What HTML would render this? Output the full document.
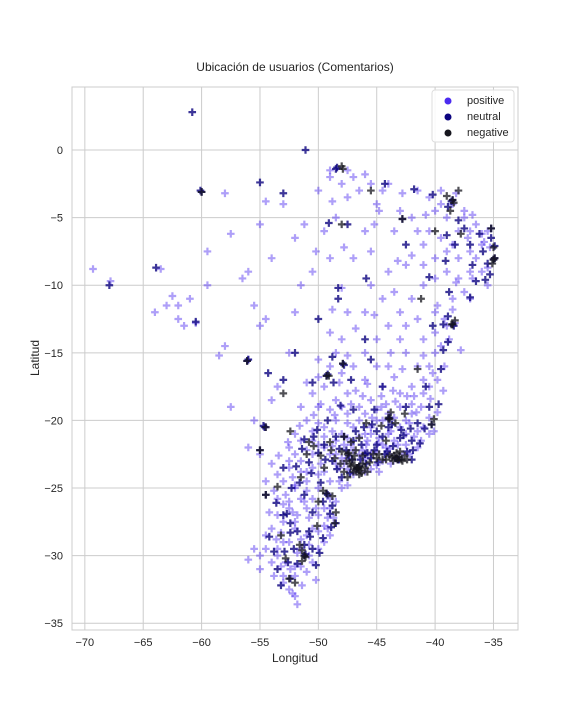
<!DOCTYPE html>
<html><head><meta charset="utf-8"><style>
body{margin:0;background:#fff;font-family:"Liberation Sans",sans-serif}
svg text{font-family:"Liberation Sans",sans-serif;fill:#262626}
</style></head><body>
<svg id="chart" width="576" height="720" viewBox="0 0 576 720">
<rect width="576" height="720" fill="#fff"/>
<text x="295" y="71" text-anchor="middle" font-size="12">Ubicación de usuarios (Comentarios)</text>
<g id="grid"></g>
<rect x="72" y="87" width="446" height="543" fill="none" stroke="#ccc" stroke-width="1"/>
<g id="pts"></g>
<g id="ticks"></g>
<text x="295" y="662" text-anchor="middle" font-size="12">Longitud</text>
<text x="39" y="358" text-anchor="middle" font-size="12" transform="rotate(-90 39 358)">Latitud</text>
<g>
<rect x="432" y="90" width="82" height="52" rx="3" fill="#fff" fill-opacity="0.85" stroke="#ddd"/>
<circle cx="448" cy="101" r="3.5" fill="#4b2bf0"/>
<text x="467" y="104" font-size="11">positive</text>
<circle cx="448" cy="117" r="3.5" fill="#0c0480"/>
<text x="467" y="120" font-size="11">neutral</text>
<circle cx="448" cy="133" r="3.5" fill="#16161e"/>
<text x="467" y="136" font-size="11">negative</text>
</g>
</svg>
<script>
const xTicks=[-70,-65,-60,-55,-50,-45,-40,-35];
const yTicks=[0,-5,-10,-15,-20,-25,-30,-35];
const positivePts=[[-69.3,-8.8],[-67.8,-9.7],[-64,-12],[-62.5,-10.8],[-62,-11.5],[-61.5,-13],[-60.5,-12.8],[-59.5,-10],[-58.5,-15.2],[-57.5,-6.2],[-56.5,-9.5],[-55.5,-11.5],[-55,-13],[-56,-15.5],[-54.5,-12.5],[-53,-4],[-54.5,-3.8],[-55,-5.5],[-58,-3.2],[-57.5,-19],[-55.5,-20],[-54.5,-20.5],[-56,-22],[-55,-22.5],[-54,-18.5],[-53.5,-17.5],[-52,-12],[-51.5,-10],[-52.5,-15],[-50.5,-9],[-49.5,-6],[-48.5,-5],[-49,-8],[-48,-10.2],[-47.5,-12],[-47,-8],[-46,-6],[-45,-4],[-44.5,-3],[-43,-4.5],[-42,-5],[-41.5,-3],[-40.5,-3.5],[-39.5,-4],[-38.5,-4],[-37.5,-5],[-36.5,-5.5],[-36,-6.2],[-37,-7.5],[-38,-8],[-39,-9],[-40,-9.5],[-41,-10],[-42,-11],[-43,-12],[-44,-13],[-45,-14],[-46,-15],[-40,-12],[-39,-13],[-39.5,-14.5],[-39.2,-16],[-40.5,-17.5],[-41.5,-16],[-42.5,-15],[-43.5,-16.8],[-44.5,-17.5],[-45.5,-18.5],[-46.5,-19],[-47.5,-18],[-48.5,-18.5],[-49.5,-17.5],[-50.5,-18],[-51.5,-19],[-52,-21],[-50.5,-21.5],[-49.5,-20.5],[-48,-21],[-47,-20.5],[-46,-21],[-45,-20],[-44,-21],[-43,-20.5],[-42,-19.5],[-41,-20.5],[-40.5,-21],[-41.5,-22],[-44,-22.5],[-45.5,-22.5],[-46.5,-22.5],[-47.5,-22.8],[-48.5,-22.5],[-49.5,-22],[-50.5,-22.5],[-51.5,-23],[-52.5,-23.5],[-53.5,-24],[-52,-25],[-51,-24.5],[-50,-24],[-49,-24.5],[-48.5,-26],[-49.5,-26.5],[-51,-26.5],[-52.5,-26.5],[-53.5,-27],[-52,-28],[-50.5,-28],[-49,-28.5],[-50,-29.5],[-51.5,-29.5],[-53,-29],[-54.5,-28.5],[-55.5,-29.5],[-54,-30.5],[-53,-31.5],[-52.5,-32.5],[-51.8,-33.6],[-56,-30.3],[-55,-31],[-50.5,-30.5],[-49.5,-29],[-41,-7],[-42.5,-8.5],[-44,-9],[-45.5,-10],[-46,-12],[-44.5,-11],[-43.5,-10.5],[-38.5,-11],[-37.5,-10.5],[-36.8,-9.5],[-35.5,-8.7],[-35.3,-7.2],[-36.5,-8],[-38.3,-12.8],[-40,-15],[-41,-14],[-47,-16],[-48.5,-15],[-50,-15.5],[-49,-13.5],[-48,-14],[-46,-17],[-43,-18],[-42.5,-21],[-44.5,-23],[-47,-24],[-48,-25],[-46,-23.8],[-45,-23.3],[-50.5,-25.8],[-49.3,-25.4],[-52.5,-22],[-48.5,-20],[-45,-16],[-42,-17.5],[-59.5,-7.5],[-61,-11],[-63.5,-8.8],[-63,-11.5],[-62,-12.5],[-58,-14.5],[-56,-9],[-54,-8],[-52,-6.5],[-50,-3],[-49,-2],[-47.5,-1.5],[-46,-1.8],[-47.5,-3.5],[-44,-2.5],[-43.5,-6],[-45.5,-7.5],[-43,-14],[-37,-11],[-39.3,-17.8],[-47.2,-21.8],[-46.2,-22.2],[-48.2,-23.5],[-47.8,-23.2],[-45.8,-21.5],[-44.8,-21.3],[-43.8,-20.8],[-42.2,-20.2],[-41.2,-19],[-49.8,-23.2],[-51,-23.8],[-52.2,-24.2],[-50.8,-27.2],[-49.2,-27.2],[-51.8,-27],[-53.2,-28.3],[-52,-30.8],[-50.8,-29.2],[-52.8,-25.5],[-47.5,-19.5],[-44.2,-18.8],[-42.8,-16.2],[-40.2,-16.5],[-39.8,-11.5],[-38.2,-9.8],[-37.2,-6.5],[-40.8,-4.8],[-42.8,-3.2],[-45.2,-5.5],[-47.8,-7.2],[-50.2,-7.5],[-51.2,-5.5],[-48.8,-11.8],[-46.8,-13.2],[-45.2,-12.2],[-43.2,-8.2],[-35.8,-6.8],[-37.8,-14.8],[-41.8,-18.2],
[-50,-19],[-49,-19.2],[-48,-19],[-46,-19.5],[-45,-19.2],[-44,-19.5],[-43,-19],[-42,-18.8],[-41,-18],[-40.5,-19.8],
[-51,-20],[-50,-20.2],[-48.8,-20.8],[-47.5,-20.2],[-46.5,-20],[-45.5,-20.5],[-44.5,-20],[-43.5,-19.8],[-42.5,-20],[-41.5,-20.8],
[-51.5,-21.5],[-50.5,-20.8],[-49.5,-21.2],[-48.5,-21.5],[-47.5,-21.3],[-46.5,-21.2],[-45.5,-21],[-44.5,-21.8],[-43.5,-21.5],[-42.5,-21.8],[-41.8,-21.2],
[-52,-22.5],[-51,-22.2],[-50,-21.8],[-49,-22.5],[-48,-22.8],[-47,-22.2],[-46,-22.8],[-45,-22.3],[-44.2,-22],[-43.2,-21.8],[-42.8,-22.5],
[-52.5,-23],[-51.5,-23.8],[-50.5,-23.5],[-49.5,-23.8],[-48.5,-23.2],[-47.5,-23.6],[-45.5,-23.6],[-44.8,-23.8],[-43.8,-23.2],
[-53,-24.5],[-52,-24.8],[-51,-25.2],[-50,-25],[-49,-25.8],[-48.2,-24.5],[-47.5,-24.8],
[-53.5,-25.8],[-52.5,-26],[-51.5,-25.8],[-50.2,-26.5],[-49,-26.5],[-48.7,-27.2],[-53,-27.5],[-52,-27.5],[-51,-28.5],[-50,-28.2],[-49.2,-28],
[-54,-28],[-53.5,-29.5],[-52.5,-29],[-51.5,-28.8],[-50.8,-30],[-52.8,-30.5],[-51.5,-30.8],[-53.5,-30],[-54.5,-29.5],[-55,-30],
[-53,-32],[-52,-31.5],[-52.2,-32.8],[-52,-33],[-53.8,-31.5],
[-40,-4.5],[-39,-5],[-38,-6],[-37,-6],[-36,-7],[-35.5,-6],[-38.5,-7],[-39.5,-6.5],[-40.5,-6],[-41.5,-6],[-42,-7.8],[-41,-8.5],[-40,-8],[-39,-7.5],[-38,-9.5],[-37,-9],[-36,-9],[-35.5,-10],
[-38.5,-11.8],[-39.2,-12.5],[-38.8,-14],[-40,-13.5],[-41.5,-12.5],[-42.5,-13],[-41,-15.2],[-40.5,-16],[-39.8,-17],[-41,-17],
[-48,-16.5],[-49,-16],[-47.5,-15.2],[-48.2,-17.2],[-50,-16.8],[-51,-17.2],[-46.8,-17.8],[-45.8,-17.3],[-44,-16],[-43.8,-15],
[-49,-1.5],[-48,-2.5],[-47,-2],[-46.5,-3],[-48.8,-3.8],[-45.5,-2.5],[-44.8,-4.5],[-39.5,-3],[-38.2,-3.2],[-37.5,-4.5],[-36.8,-4.8],
[-49.8,-18.8],[-48.6,-19.6],[-47.2,-18.8],[-46.2,-18.2],[-45.4,-19.8],[-44.6,-18.2],[-43.4,-18.6],[-42.4,-18.2],[-41.6,-19.4],[-50.4,-19.6],[-51.6,-20.4],[-52.6,-21.6],[-53.4,-22.6],[-54,-23.2],[-54.5,-24.5],[-53.8,-25.2],[-53,-26.2],[-52.2,-26.8],[-51.2,-26],[-50,-27],[-49.5,-27.8],[-54.2,-26.8],[-53.6,-28.8],[-51.8,-29.8],[-52.4,-31],[-53.2,-30.8],[-51,-31.2],[-50.2,-31.8],[-51.4,-32.2],[-44.6,-19],[-43.6,-17.8],[-40.4,-18.4],[-39.8,-19.4],[-40.1,-20.8],[-48.8,-21.9],[-47.8,-21.8],[-45.9,-21.8],[-44.9,-21.7],[-43.9,-22.1],[-42.2,-22.5],[-41.2,-21.5]];
const neutralPts=[[-60.8,2.8],[-51.1,0],[-60,-3.1],[-60.1,-3.0],[-55,-2.4],[-53,-3.2],[-63.9,-8.7],[-67.9,-10],[-60.5,-12.7],[-56,-15.5],[-54.6,-20.5],[-54.7,-20.4],[-55,-22.2],[-48.5,-1.4],[-48.4,-1.3],[-44.3,-2.5],[-42.8,-5.1],[-38.5,-3.7],[-38.6,-3.8],[-35.2,-5.8],[-34.9,-7.1],[-34.9,-8.0],[-35,-8.1],[-35.7,-9.6],[-37,-10.9],[-38.5,-12.9],[-38.4,-13],[-47.9,-15.8],[-47.8,-15.9],[-49.3,-16.7],[-49.2,-16.6],[-44,-19.9],[-43.9,-19.8],[-40.3,-20.3],[-43.2,-22.9],[-43.1,-22.9],[-46.6,-23.5],[-46.7,-23.6],[-46.5,-23.4],[-47.1,-22.9],[-47.8,-21.2],[-49.3,-25.4],[-49.2,-25.5],[-48.5,-27.6],[-51.2,-30],[-51.1,-29.9],[-52.4,-31.7],[-51.2,-29.2],[-49,-26.9],[-53,-23.5],[-51.4,-22.1],[-50.4,-21.2],[-48.1,-18.9],[-46.1,-20.5],[-45,-21.8],[-44.3,-22.5],[-42,-22.9],[-40.5,-19],[-39.3,-14.8],[-40.5,-9.4],[-37,-7],[-36.5,-9.7],[-42.5,-7],[-45.9,-9.5],[-48.3,-10.2],[-56.1,-15.6],[-54.5,-25.5],[-53,-27],[-52.4,-28.3],[-49.6,-28.7],[-50.2,-30.7],[-53.8,-29.7],[-48.8,-23],[-45.9,-23.2],[-45.5,-22.8],[-43.4,-22.8],[-47.4,-22.6],[-51.9,-23.4],[-50,-22.4],[-46.3,-21.8],[-42.9,-20.7],[-41.3,-21.7],[-48.8,-26.3],[-52.7,-26.9],[-49.9,-29.8],[-53.5,-31],[-38.9,-12.3],[-39.7,-18.8],[-39,-6.3],[-38,-5.2],[-41.8,-2.9],[-47.5,-5.5],[-49.1,-5.4],[-50,-12.5],[-48.3,-11],[-44.5,-17.5],[-46,-14],[-53,-17],[-52,-15],[-54.3,-16.5],[-47.3,-23.9],[-45.2,-22.2],[-44.5,-21.2],[-42.4,-22.3],[-48.2,-22.1],[-50.8,-23.1],[-52.1,-29.5],[-50.7,-28.6],[-39.1,-8.2],[-35.9,-7.5],
[-49.5,-21.8],[-48.5,-21.2],[-47,-21.5],[-46,-22.5],[-45,-20.8],[-44,-20.5],[-43,-21.3],[-42,-21.5],[-41.5,-20.2],[-48,-24.2],[-49.8,-24.6],[-51.2,-25.5],[-52.3,-25],[-50.5,-26.8],[-51.8,-28.2],[-50.5,-29.5],[-52.6,-30.5],[-53.2,-32.2],[-54.2,-28.6],[-49.2,-20],[-47,-19.2],[-45.2,-19.2],[-42.5,-19],[-40.8,-17.5],[-39.5,-16.2],[-40.2,-13],[-38.8,-10.5],[-36.8,-8.5],[-37.5,-5.8],[-40.2,-3.3],[-35.2,-6.5],[-35.5,-8.4],[-38.3,-7],[-47.2,-17],[-48.8,-15.3],[-50.5,-17.2],[-45.5,-15.5],
[-48.4,-23.6],[-47.6,-22.2],[-46.4,-22.9],[-45.8,-22.4],[-44.9,-23.1],[-44.1,-22.3],[-43.6,-21.9],[-42.7,-21.1],[-41.9,-22.2],[-49.4,-22.9],[-50.6,-23.9],[-51.6,-24.6],[-49.6,-26],[-48.9,-27.9],[-50.8,-28.2],[-51.8,-30.6],[-52.9,-29.7],[-53.6,-26.1],[-52.4,-27.6],[-46.8,-20.8],[-45.4,-20.3],[-43.7,-20.3],[-42.1,-20.6],[-40.9,-20.6],[-38.9,-14.2],[-39.3,-12.9],[-35.3,-9.2],[-36.2,-6.2],[-38.9,-4.2],[-48.7,-17.2],[-50.1,-20.7],[-51.2,-21.4]];
const negativePts=[[-60,-3.1],[-48,-1.2],[-47.9,-1.4],[-45.5,-3],[-42.8,-5.1],[-38.5,-3.7],[-35.2,-5.8],[-34.9,-8],[-35,-7.2],[-38.5,-12.9],[-47.9,-15.8],[-49.3,-16.7],[-43.9,-19.9],[-46.6,-23.5],[-46.7,-23.5],[-46.6,-23.6],[-46.5,-23.4],[-46.8,-23.7],[-46.9,-23.3],[-47.1,-22.9],[-46.4,-23.7],[-47.3,-23.2],[-46.2,-23.2],[-43.2,-22.9],[-43.3,-22.8],[-43.1,-22.7],[-42.9,-22.9],[-43.5,-22.6],[-43.7,-22.7],[-49.3,-25.4],[-51.2,-30],[-51.1,-30.1],[-40.3,-20.3],[-44,-19.8],[-38.6,-12.9],[-35,-8.1],[-48.6,-27.6],[-47.8,-21.2],[-49.1,-16.7],[-45,-22.8],[-44.8,-22.5],[-47.5,-22.5],[-48,-22.3],[-52.5,-31.7],[-54.5,-25.5],[-55,-22.2],[-53.5,-24.9],[-50,-26],[-53,-18],[-52.8,-30.2],[-39,-3.4],[-40,-6],[-41.2,-11],[-37.8,-6.2],[-38.7,-4.5],[-38,-3],[-51,-22.5],[-52.4,-20.8],[-42.6,-19.5],[-41.5,-16.2],[-48,-5.5],[-54.5,-20.5],[-56.1,-15.6],
[-47,-23.8],[-46.3,-23.9],[-47.4,-22.4],[-46.9,-22.6],[-46,-23.5],[-45.6,-23.1],[-44.5,-22.9],[-43.9,-22.6],[-42.6,-22.6],[-43,-22.3],[-48.6,-22.8],[-49.5,-23.5],[-50.4,-21.9],[-49,-21.6],[-46.5,-21.3],[-44.2,-21.5],[-45.9,-20.2],[-51.5,-24.2],[-50.1,-27.8],[-51.4,-29.6],[-52,-32],[-53.2,-28.5],[-48.5,-26.8],
[-47.2,-23.4],[-47.6,-23],[-46.8,-22.2],[-46.2,-22.6],[-45.8,-23.8],[-47.8,-23.8],[-46.5,-24],[-47.5,-24.2],[-48.1,-23.2],[-43.6,-23],[-42.8,-23],[-43.3,-22.4],[-42.4,-22.9],[-44.2,-22.9],[-45.3,-22.5],[-48.9,-22.2],[-49.8,-22.6],[-50.8,-21.6],[-47.2,-21.6],[-44.6,-20.4],[-43.4,-20.2],[-43.8,-19.4],[-49.6,-25.2],[-48.8,-25.6],[-51.4,-30.4],[-51.6,-29.2],[-40.1,-19.9],[-38.3,-12.6],[-35.1,-8.4],[-38.4,-3.9]];

const NS='http://www.w3.org/2000/svg';
const X0=72,X1=518,Y0=87,Y1=630;
const lonMin=-71.1,lonMax=-32.9,latMin=-35.5,latMax=4.66;
function xs(v){return X0+(v-lonMin)/(lonMax-lonMin)*(X1-X0);}
function ys(v){return Y1-(v-latMin)/(latMax-latMin)*(Y1-Y0);}
const grid=document.getElementById('grid'),ticks=document.getElementById('ticks'),pts=document.getElementById('pts');
function mk(tag,attrs,parent){const e=document.createElementNS(NS,tag);for(const k in attrs)e.setAttribute(k,attrs[k]);parent.appendChild(e);return e;}
xTicks.forEach(t=>{const x=xs(t);
 const l=mk('line',{x1:x,x2:x,y1:Y0,y2:Y1,stroke:'#ccc'},grid);
 
 
 const tx=mk('text',{x:x,y:Y1+16,'text-anchor':'middle','font-size':'11'},ticks);tx.textContent=String(t).replace('-','\u2212');
 
 
});
yTicks.forEach(t=>{const y=ys(t);
 const l=mk('line',{x1:X0,x2:X1,y1:y,y2:y,stroke:'#ccc'},grid);
 
 
 const tx=mk('text',{x:X0-9,y:y+4,'text-anchor':'end','font-size':'11'},ticks);tx.textContent=String(t).replace('-','\u2212');
 
 
});
function drawSeries(arr,color,op,name){
 const g=mk('g',{stroke:color,'stroke-opacity':op,'stroke-width':'2.2'},pts);
 
 
 arr.forEach(p=>{const x=xs(p[0]),y=ys(p[1]);
  const m=mk('path',{d:`M${x-3.8},${y}H${x+3.8}M${x},${y-3.8}V${y+3.8}`},g);
  
  
 });
}
drawSeries(positivePts,'#4b2bf0','0.45','positive');
drawSeries(neutralPts,'#0c0480','0.8','neutral');
drawSeries(negativePts,'#16161e','0.75','negative');
</script>
</body></html>
